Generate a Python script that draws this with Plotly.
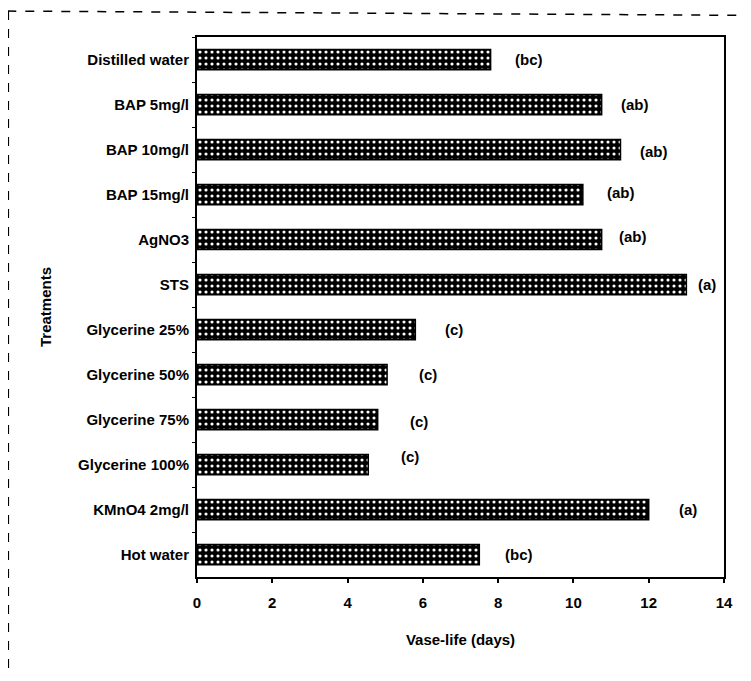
import plotly.graph_objects as go

treatments = ["Distilled water", "BAP 5mg/l", "BAP 10mg/l", "BAP 15mg/l", "AgNO3", "STS",
              "Glycerine 25%", "Glycerine 50%", "Glycerine 75%", "Glycerine 100%",
              "KMnO4 2mg/l", "Hot water"]
vase_life = [7.8, 10.75, 11.25, 10.25, 10.75, 13.0, 5.8, 5.05, 4.8, 4.55, 12.0, 7.5]
letters = ["(bc)", "(ab)", "(ab)", "(ab)", "(ab)", "(a)", "(c)", "(c)", "(c)", "(c)", "(a)", "(bc)"]
x_ticks = [0, 2, 4, 6, 8, 10, 12, 14]

# styling: pixel offsets of the significance letters
label_xshift = [22, 17, 18, 22, 15, 10, 28, 30, 30, 31, 28, 24]
label_yshift = [0, 0, -2, 2, 3, 0, 0, 0, -2, 8, 0, 0]

FONT = "Liberation Sans"
FS = 15

fig = go.Figure()
fig.add_trace(go.Bar(
    y=treatments, x=vase_life, orientation="h", width=0.45,
    marker=dict(color="black", line=dict(color="black", width=1.5),
                pattern=dict(shape=".", fgcolor="white", bgcolor="black",
                             size=6, solidity=0.22, fillmode="replace")),
    showlegend=False, hoverinfo="x+y",
))

for t, v, lab, dx, dy in zip(treatments, vase_life, letters, label_xshift, label_yshift):
    fig.add_annotation(x=v, y=t, text=lab, showarrow=False, xanchor="left",
                       xshift=dx, yshift=dy,
                       font=dict(family=FONT, size=FS, color="black", weight="bold"))

# scanned page frame (decoration)
fig.add_shape(type="line", xref="paper", yref="paper", x0=-0.36, x1=1.06, y0=1.048, y1=1.04,
              line=dict(color="black", width=1.5, dash="dash"))
fig.add_shape(type="line", xref="paper", yref="paper", x0=-0.358, x1=-0.358, y0=1.048, y1=-0.25,
              line=dict(color="black", width=1.5, dash="dash"))

# page body has an 8px margin: width/height and margins compensate for it
fig.update_layout(
    width=737, height=665,
    margin=dict(l=189, r=17, t=29, b=96),
    paper_bgcolor="white", plot_bgcolor="white",
    font=dict(family=FONT, size=FS, color="black", weight="bold"),
    bargap=0.55,
)
fig.update_xaxes(range=[0, 14], tickvals=x_ticks, ticktext=[str(t) for t in x_ticks],
                 showline=True, linecolor="black", linewidth=2, mirror=True,
                 ticks="outside", ticklen=4, tickwidth=2, tickcolor="black",
                 ticklabelstandoff=7,
                 showgrid=False, zeroline=False,
                 tickfont=dict(family=FONT, size=FS, weight="bold"),
                 title=dict(text="Vase-life (days)", standoff=24,
                            font=dict(family=FONT, size=FS, weight="bold")))
fig.update_yaxes(categoryorder="array", categoryarray=treatments, autorange="reversed",
                 showline=True, linecolor="black", linewidth=2, mirror=True,
                 ticks="outside", tickson="boundaries", ticklen=3, tickwidth=1, tickcolor="black",
                 ticklabelstandoff=3,
                 showgrid=False, zeroline=False,
                 tickfont=dict(family=FONT, size=FS, weight="bold"),
                 title=dict(text="Treatments", standoff=23,
                            font=dict(family=FONT, size=FS, weight="bold")))

fig.write_html("out.html")
